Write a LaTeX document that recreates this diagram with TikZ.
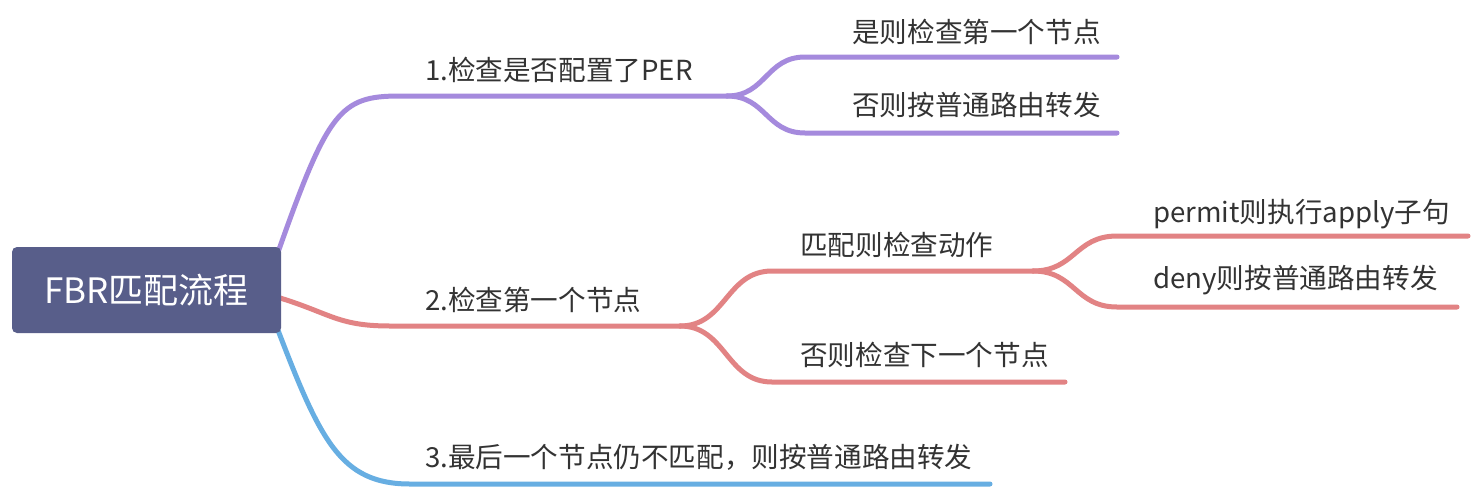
\documentclass[tikz,border=0pt]{standalone}
\usepackage{fontspec}
\setmainfont{Noto Sans CJK SC}
\definecolor{cpur}{HTML}{A58ADD}
\definecolor{cred}{HTML}{E28384}
\definecolor{cblu}{HTML}{67AEE2}
\definecolor{croot}{HTML}{585E8A}
\definecolor{ctxt}{HTML}{333333}
\begin{document}
\begin{tikzpicture}[x=1pt,y=-1pt,
  lbl/.style={anchor=base west, text=ctxt, inner sep=0pt, font=\fontsize{27.6}{32}\selectfont},
  br/.style={line width=5pt, line cap=round},
  rootbox/.style={fill=croot, rounded corners=5pt, text=white, minimum width=269pt, minimum height=86pt, inner sep=0pt, font=\fontsize{35}{40}\selectfont}
]
\useasboundingbox[fill=white] (0,0) rectangle (1480,488);

% coordinates
\coordinate (r1) at (276,258);
\coordinate (r2) at (270,295);
\coordinate (r3) at (276,325);
\coordinate (p1) at (400,96);
\coordinate (f1) at (727,96);
\coordinate (p11) at (805,57);
\coordinate (e11) at (1117,57);
\coordinate (p12) at (805,133);
\coordinate (e12) at (1117,133);
\coordinate (p2) at (390,326);
\coordinate (f2) at (680,326);
\coordinate (p21) at (772,271);
\coordinate (f21) at (1033,271);
\coordinate (p211) at (1117,236);
\coordinate (e211) at (1468,236);
\coordinate (p212) at (1117,307);
\coordinate (e212) at (1457,307);
\coordinate (p22) at (772,382);
\coordinate (e22) at (1065,382);
\coordinate (p3) at (410,484);
\coordinate (e3) at (990,484);

% purple
\draw[br,cpur] (r1) .. controls (328,110) and (340,96) .. (p1) -- (f1);
\draw[br,cpur] (f1) .. controls (766,96) and (766,57) .. (p11) -- (e11);
\draw[br,cpur] (f1) .. controls (766,96) and (766,133) .. (p12) -- (e12);
% red
\draw[br,cred] (r2) .. controls (330,312) and (335,326) .. (p2) -- (f2);
\draw[br,cred] (f2) .. controls (726,326) and (726,271) .. (p21) -- (f21);
\draw[br,cred] (f2) .. controls (726,326) and (726,382) .. (p22) -- (e22);
\draw[br,cred] (f21) .. controls (1075,271) and (1075,236) .. (p211) -- (e211);
\draw[br,cred] (f21) .. controls (1075,271) and (1075,307) .. (p212) -- (e212);
% blue
\draw[br,cblu] (r3) .. controls (320,440) and (340,484) .. (p3) -- (e3);

% root
\node[rootbox] (root) at (146.5,290) {FBR匹配流程};

% labels
\node[lbl] (t1) at (425,80) {1.检查是否配置了PER};
\node[lbl] (t11) at (852,42) {是则检查第一个节点};
\node[lbl] (t12) at (852,115) {否则按普通路由转发};
\node[lbl] (t2) at (425,310) {2.检查第一个节点};
\node[lbl] (t21) at (800,255) {匹配则检查动作};
\node[lbl] (t22) at (800,365) {否则检查下一个节点};
\node[lbl] (t211) at (1153,222) {permit则执行apply子句};
\node[lbl] (t212) at (1153,288) {deny则按普通路由转发};
\node[lbl] (t3) at (425,467) {3.最后一个节点仍不匹配，则按普通路由转发};
\end{tikzpicture}
\end{document}
